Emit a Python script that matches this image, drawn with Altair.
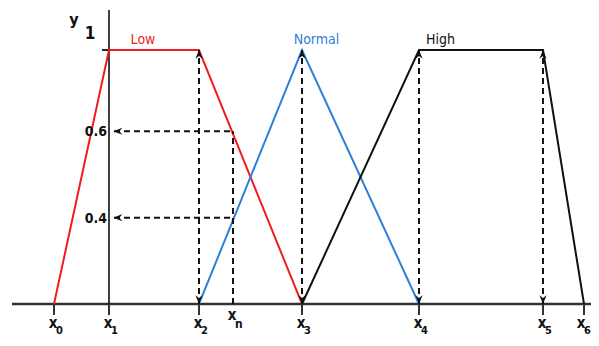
import altair as alt
import pandas as pd

# ---------------- data ----------------
point_subs = ["0", "1", "2", "3", "4", "5", "6"]
point_x = [4.6, 10.1, 19.1, 29.4, 41.1, 53.5, 57.6]
xn_x = 22.5
xn_sub = "n"

low_x = [4.6, 10.1, 19.1, 29.4]
low_y = [0, 1, 1, 0]
normal_x = [19.1, 29.4, 41.1]
normal_y = [0, 1, 0]
high_x = [29.4, 41.1, 53.5, 57.6]
high_y = [0, 1, 1, 0]

set_names = ["Low", "Normal", "High"]
set_label_x = [13.5, 30.85, 43.25]
set_colors = ["#f21c1c", "#2c80d8", "#111111"]

arrow_x = [19.1, 29.4, 41.1, 53.5]       # dashed double-headed arrows
level_values = [0.68, 0.34]              # membership levels read at xn
level_labels = ["0.6", "0.4"]

# ---------------- scales ----------------
X_DOMAIN = [0, 58.3]
Y_DOMAIN = [-0.1339, 1.1654]
xs = alt.Scale(domain=X_DOMAIN, nice=False, zero=False)
ys = alt.Scale(domain=Y_DOMAIN, nice=False, zero=False)
FONT = "DejaVu Sans Condensed, Liberation Sans Narrow, Liberation Sans, Arial"
INK = "#111111"
AXIS_INK = "#333333"
DASH = [6, 4]
TICK_LEN = 0.043


def X(f):
    return alt.X(f, type="quantitative", scale=xs, axis=None)


def Y(f):
    return alt.Y(f, type="quantitative", scale=ys, axis=None)


# ---------------- axes ----------------
x_axis_df = pd.DataFrame({"x": [X_DOMAIN[0] + 0.4], "x2": [X_DOMAIN[1]], "y": [0]})
x_axis = alt.Chart(x_axis_df).mark_rule(color=AXIS_INK, strokeWidth=2.5).encode(
    x=X("x"), x2="x2", y=Y("y"))

y_axis_df = pd.DataFrame({"x": [point_x[1]], "y": [-TICK_LEN], "y2": [Y_DOMAIN[1] - 0.008]})
y_axis = alt.Chart(y_axis_df).mark_rule(color=INK, strokeWidth=1.6).encode(
    x=X("x"), y=Y("y"), y2="y2")

ticks_df = pd.DataFrame({"x": point_x, "y": [0] * len(point_x), "y2": [-TICK_LEN] * len(point_x)})
ticks = alt.Chart(ticks_df).mark_rule(color=AXIS_INK, strokeWidth=2).encode(
    x=X("x"), y=Y("y"), y2="y2")

one_tick_df = pd.DataFrame({"x": [point_x[1] - 0.7], "x2": [point_x[1]], "y": [1]})
one_tick = alt.Chart(one_tick_df).mark_rule(color=INK, strokeWidth=1.8).encode(
    x=X("x"), x2="x2", y=Y("y"))

# ---------------- membership functions ----------------
rows = []
for name, xv, yv in [("Low", low_x, low_y), ("Normal", normal_x, normal_y), ("High", high_x, high_y)]:
    for i, (a, b) in enumerate(zip(xv, yv)):
        rows.append({"set": name, "x": a, "y": b, "i": i})
mf_df = pd.DataFrame(rows)
color_scale = alt.Scale(domain=set_names, range=set_colors)
mf = alt.Chart(mf_df).mark_line(strokeWidth=2).encode(
    x=X("x"), y=Y("y"), order="i:Q",
    color=alt.Color("set:N", scale=color_scale, legend=None))

# ---------------- dashed guides ----------------
vdash_df = pd.DataFrame({"x": arrow_x + [xn_x],
                         "y": [0] * len(arrow_x) + [0],
                         "y2": [1] * len(arrow_x) + [level_values[0]]})
vdash = alt.Chart(vdash_df).mark_rule(color=INK, strokeWidth=2, strokeDash=DASH).encode(
    x=X("x"), y=Y("y"), y2="y2")

hdash_df = pd.DataFrame({"x": [point_x[1] + 0.5] * len(level_values),
                         "x2": [xn_x] * len(level_values), "y": level_values})
hdash = alt.Chart(hdash_df).mark_rule(color=INK, strokeWidth=2, strokeDash=DASH).encode(
    x=X("x"), x2="x2", y=Y("y"))

UP = "M0,0L-0.65,1.6L0,1.1L0.65,1.6Z"
DOWN = "M0,0L-0.65,-1.6L0,-1.1L0.65,-1.6Z"
LEFT = "M0,0L1.6,-0.65L1.1,0L1.6,0.65Z"

up_df = pd.DataFrame({"x": arrow_x, "y": [1] * len(arrow_x)})
down_df = pd.DataFrame({"x": arrow_x, "y": [0] * len(arrow_x)})
left_df = pd.DataFrame({"x": [point_x[1] + 0.45] * len(level_values), "y": level_values})


def heads(df, shape):
    return alt.Chart(df).mark_point(shape=shape, filled=True, color=INK, size=120,
                                    opacity=1, strokeWidth=0).encode(x=X("x"), y=Y("y"))


# ---------------- text ----------------
set_lab_df = pd.DataFrame({"set": set_names, "x": set_label_x, "y": [1] * 3})
set_labels = alt.Chart(set_lab_df).mark_text(
    font=FONT, fontSize=14, baseline="alphabetic", align="center", dy=-6).encode(
    x=X("x"), y=Y("y"), text="set:N",
    color=alt.Color("set:N", scale=color_scale, legend=None))

lvl_df = pd.DataFrame({"x": [point_x[1]] * 2, "y": level_values, "t": level_labels})
lvl_labels = alt.Chart(lvl_df).mark_text(
    font=FONT, fontSize=14, fontWeight="bold", color=INK, align="right",
    baseline="middle", dx=-2, dy=1).encode(x=X("x"), y=Y("y"), text="t:N")

one_df = pd.DataFrame({"x": [point_x[1]], "y": [1], "t": ["1"]})
one_label = alt.Chart(one_df).mark_text(
    font=FONT, fontSize=17, fontWeight="bold", color=INK, align="center",
    baseline="alphabetic", dx=-19, dy=-11).encode(x=X("x"), y=Y("y"), text="t:N")

yname_df = pd.DataFrame({"x": [point_x[1]], "y": [1], "t": ["y"]})
y_name = alt.Chart(yname_df).mark_text(
    font=FONT, fontSize=16, fontWeight="bold", color=INK, align="center",
    baseline="alphabetic", dx=-35, dy=-25).encode(x=X("x"), y=Y("y"), text="t:N")


def x_label(xv, subs, main_dx, sub_dx, main_dy, sub_dy, sub_size):
    df = pd.DataFrame({"x": xv, "y": [0] * len(xv), "t": ["x"] * len(xv), "s": subs})
    main = alt.Chart(df).mark_text(
        font=FONT, fontSize=15, fontWeight="bold", color=INK, align="center",
        baseline="alphabetic", dx=main_dx, dy=main_dy).encode(x=X("x"), y=Y("y"), text="t:N")
    sub = alt.Chart(df).mark_text(
        font=FONT, fontSize=sub_size, fontWeight="bold", color=INK, align="left",
        baseline="alphabetic", dx=sub_dx, dy=sub_dy).encode(x=X("x"), y=Y("y"), text="s:N")
    return [main, sub]


labels = []
labels += x_label(point_x[:-1], point_subs[:-1], -1, 2, 24, 30, 11)
labels += x_label(point_x[-1:], point_subs[-1:], -3, 0, 24, 30, 11)
labels += x_label([xn_x], [xn_sub], -1, 2, 16, 24, 12)

chart = alt.layer(
    x_axis, y_axis, ticks, one_tick, mf, vdash, hdash,
    heads(up_df, UP), heads(down_df, DOWN), heads(left_df, LEFT),
    set_labels, lvl_labels, one_label, y_name, *labels,
).properties(
    width=583, height=330, padding=0, autosize=alt.AutoSizeParams(type="none"),
    background="white",
).configure_view(stroke=None)

chart.save("out.html", embed_options={"renderer": "svg", "actions": False})
